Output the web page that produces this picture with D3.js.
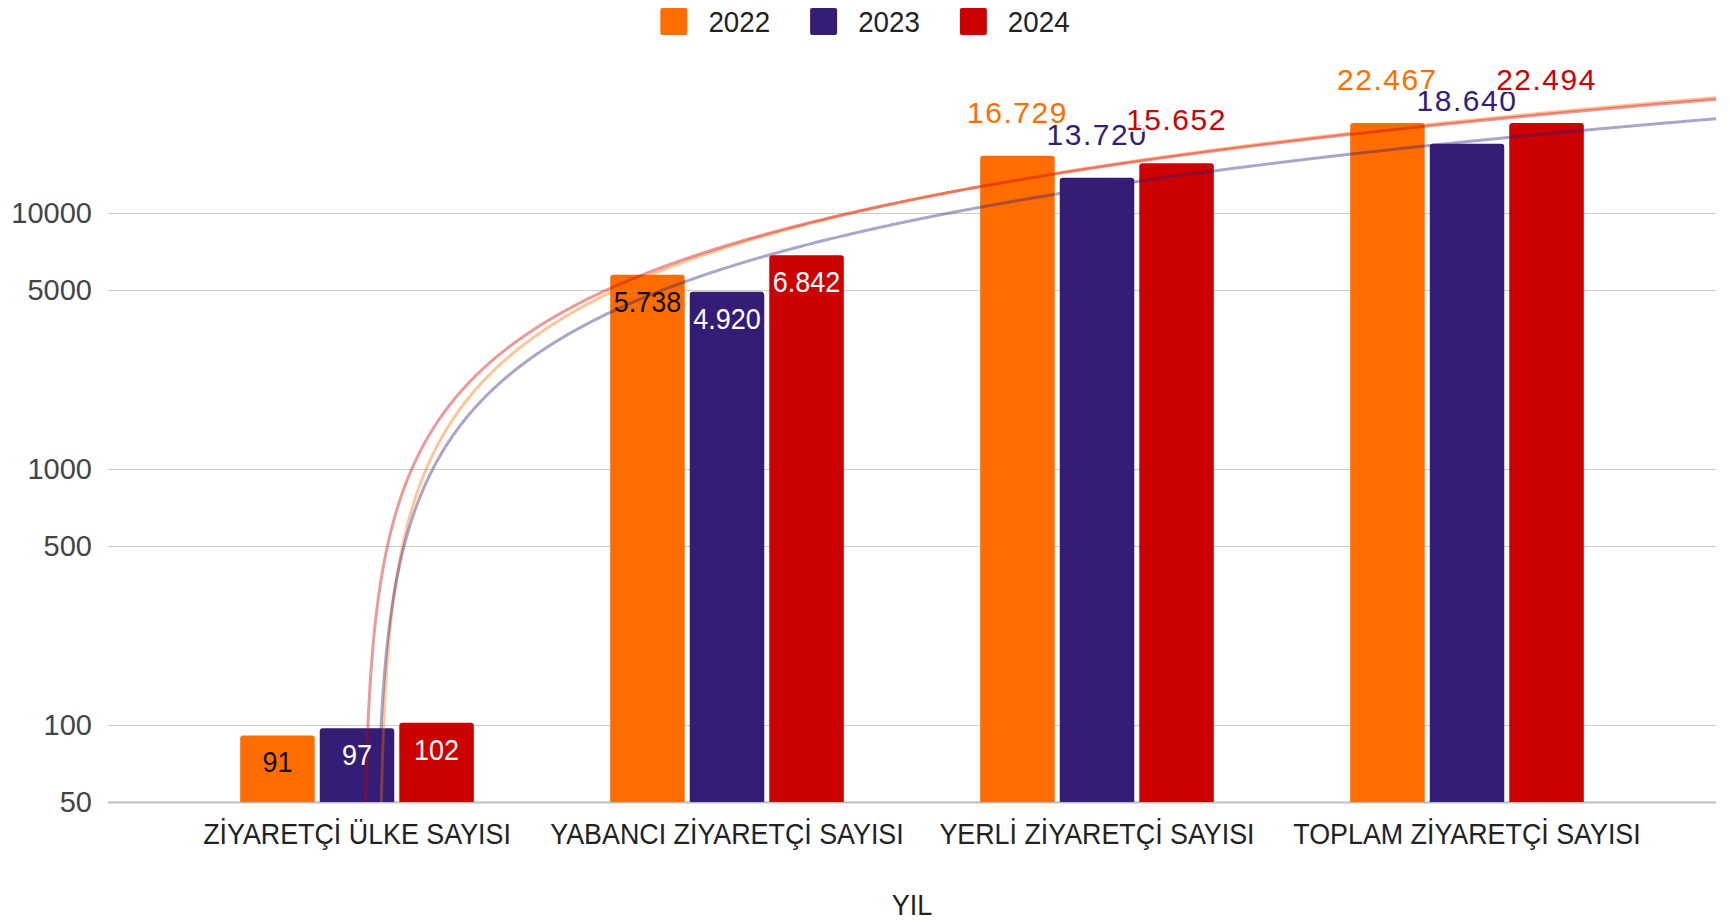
<!DOCTYPE html>
<html>
<head>
<meta charset="utf-8">
<script src="https://cdn.jsdelivr.net/npm/d3@7"></script>
<style>
  body { margin: 0; background: #fff; }
  text { font-family: "Liberation Sans", Arial, sans-serif; }
</style>
</head>
<body>
<div id="chart"></div>
<script>
// data
const categories = ["ZİYARETÇİ ÜLKE SAYISI", "YABANCI ZİYARETÇİ SAYISI", "YERLİ ZİYARETÇİ SAYISI", "TOPLAM ZİYARETÇİ SAYISI"];
const years = ["2022", "2023", "2024"];
const values2022 = [91, 5738, 16729, 22467];
const values2023 = [97, 4920, 13720, 18640];
const values2024 = [102, 6842, 15652, 22494];
const yTicks = [50, 100, 500, 1000, 5000, 10000];
const xTitle = "YIL";

const colors = ["#ff6d01", "#351c75", "#cc0000"];
const series = [values2022, values2023, values2024];

const width = 1730, height = 922;
const left = 108, right = 1716, bottom = 802, top10k = 213;
const pad = 0.673;
const fs = 30;

const trFormat = d3.formatLocale({ decimal: ",", thousands: ".", grouping: [3], currency: ["₺", ""] }).format(",d");

const svg = d3.select("#chart").append("svg")
    .attr("width", width)
    .attr("height", height);

const x = d3.scaleLinear()
    .domain([1 - pad, categories.length + pad])
    .range([left, right]);

const y = d3.scaleLog()
    .domain([50, 10000])
    .range([bottom, top10k]);

const unit = x(2) - x(1);
const barW = unit * 0.2014;
const barStep = unit * 0.215;

// squeeze text horizontally around its anchor
function squeeze(sel, f) {
    sel.each(function() {
        const t = d3.select(this);
        const tx = +t.attr("x"), ty = +t.attr("y");
        t.attr("x", 0).attr("y", 0)
         .attr("transform", `translate(${tx},${ty}) scale(${f},1)`);
    });
}

svg.append("defs").append("clipPath")
    .attr("id", "plot")
  .append("rect")
    .attr("x", left).attr("y", 0)
    .attr("width", right - left).attr("height", bottom);

// gridlines + y labels
const yAxis = svg.append("g")
    .attr("transform", `translate(${left},0)`)
    .call(d3.axisLeft(y).tickValues(yTicks).tickFormat(d3.format("d"))
        .tickSize(-(right - left)).tickPadding(16));
yAxis.select(".domain").remove();
yAxis.selectAll("line").attr("stroke", "#cccccc").attr("stroke-width", 1);
yAxis.selectAll(".tick").filter(d => d === 50).select("line").attr("stroke", "#bdbdbd").attr("stroke-width", 2);
yAxis.selectAll("text")
    .attr("fill", "#444")
    .style("font-size", "29px")
    .style("font-family", "'Liberation Sans', Arial, sans-serif");

// bars
const barsG = svg.append("g").attr("clip-path", "url(#plot)");
series.forEach((vals, s) => {
    barsG.selectAll(".bar-" + s)
        .data(vals)
        .enter().append("rect")
        .attr("class", "bar-" + s)
        .attr("x", (d, i) => x(i + 1) + (s - 1) * barStep - barW / 2)
        .attr("width", barW)
        .attr("y", d => y(d))
        .attr("height", d => bottom - y(d) + 6)
        .attr("rx", 3)
        .attr("fill", colors[s]);
});

// linear trendlines (least squares over category index)
const trendG = svg.append("g").attr("clip-path", "url(#plot)");
const xs = categories.map((c, i) => i + 1);
series.forEach((vals, s) => {
    const mx = d3.mean(xs), my = d3.mean(vals);
    const slope = d3.sum(xs, (xi, i) => (xi - mx) * (vals[i] - my)) / d3.sum(xs, xi => (xi - mx) * (xi - mx));
    const icpt = my - slope * mx;
    const [d0, d1] = x.domain();
    const pts = d3.range(0, 1601).map(k => {
        const xv = d0 + k * (d1 - d0) / 1600;
        return { x: xv, v: icpt + slope * xv };
    });
    trendG.append("path")
        .datum(pts)
        .attr("fill", "none")
        .attr("stroke", colors[s])
        .attr("stroke-opacity", 0.4)
        .attr("stroke-width", 3)
        .attr("d", d3.line()
            .defined(d => d.v >= 1)
            .x(d => x(d.x))
            .y(d => y(d.v)));
});

// data labels
const insideLimit = 10000;
series.forEach((vals, s) => {
    vals.forEach((v, i) => {
        const cx = x(i + 1) + (s - 1) * barStep;
        const inside = v < insideLimit;
        const t = svg.append("text")
            .attr("x", cx)
            .attr("y", inside ? y(v) + 37 : y(v) - 33)
            .attr("text-anchor", "middle")
            .style("font-size", fs + "px")
            .text(trFormat(v));
        if (inside) {
            t.attr("fill", s === 0 ? "#111" : "#fff");
            squeeze(t, 0.9);
        } else {
            t.attr("fill", colors[s])
             .attr("stroke", "#fff")
             .attr("stroke-width", 4)
             .attr("paint-order", "stroke")
             .style("letter-spacing", "1.5px");
        }
    });
});

// category labels
svg.append("g").selectAll("text")
    .data(categories)
    .enter().append("text")
    .attr("x", (d, i) => x(i + 1))
    .attr("y", 844)
    .attr("text-anchor", "middle")
    .attr("fill", "#222")
    .style("font-size", fs + "px")
    .text(d => d)
    .call(squeeze, 0.895);

// axis title
svg.append("text")
    .attr("x", (left + right) / 2)
    .attr("y", 915)
    .attr("text-anchor", "middle")
    .attr("fill", "#222")
    .style("font-size", fs + "px")
    .text(xTitle)
    .call(squeeze, 0.9);

// legend
const legend = svg.append("g");
let lx = 0;
years.forEach((yr, s) => {
    legend.append("rect")
        .attr("x", lx).attr("y", 8)
        .attr("width", 27).attr("height", 27)
        .attr("rx", 2)
        .attr("fill", colors[s]);
    const t = legend.append("text")
        .attr("x", lx + 48)
        .attr("y", 32)
        .attr("fill", "#222")
        .style("font-size", fs + "px")
        .text(yr);
    const w = t.node().getComputedTextLength() * 0.925;
    squeeze(t, 0.925);
    lx += 48 + w + 40;
});
const legendW = lx - 40;
legend.attr("transform", `translate(${width / 2 - legendW / 2},0)`);
</script>
</body>
</html>
